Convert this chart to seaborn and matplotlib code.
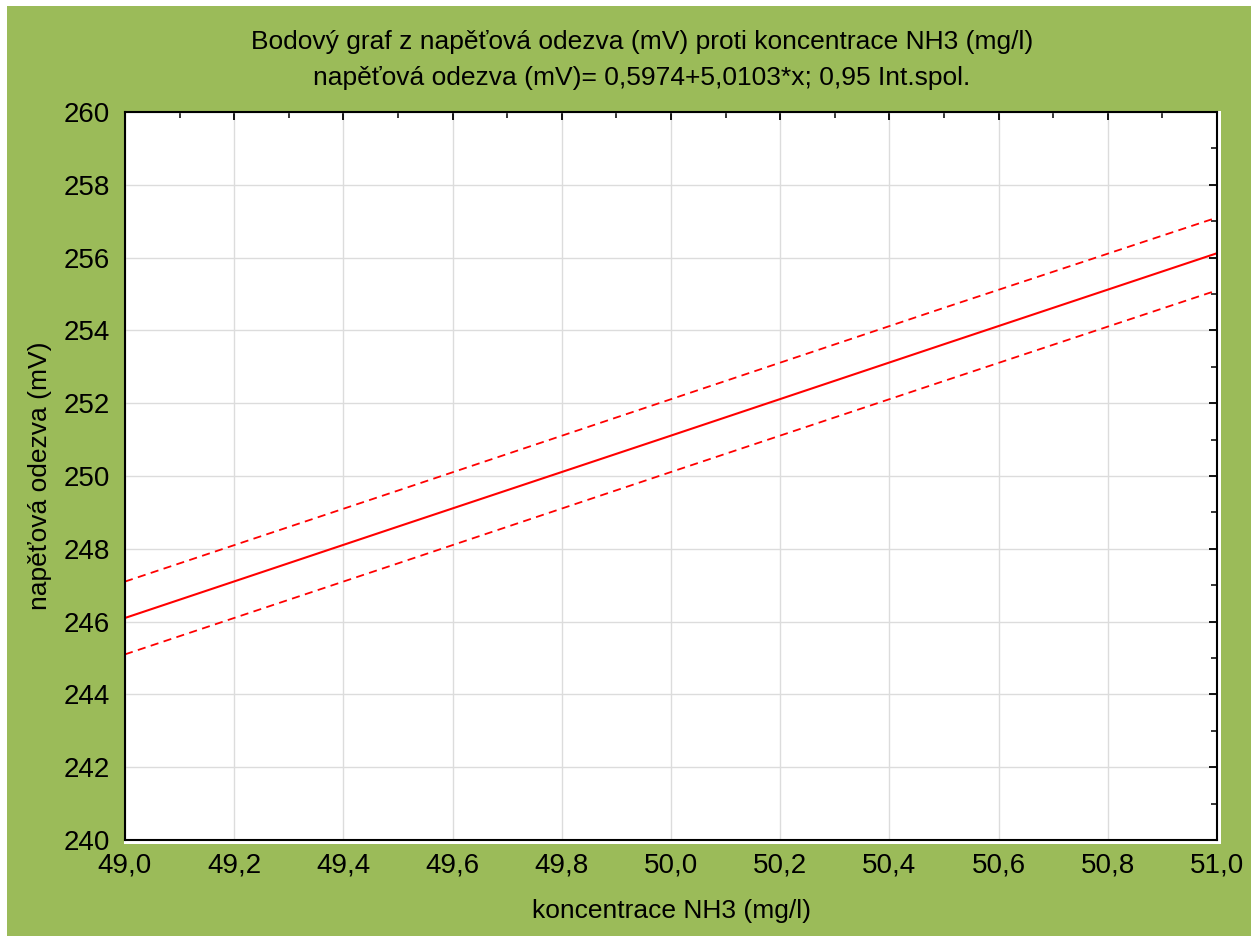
import matplotlib
matplotlib.use("Agg")
import matplotlib.pyplot as plt
import seaborn as sns
import pandas as pd
from matplotlib.patches import Rectangle
from matplotlib.ticker import MultipleLocator, FuncFormatter

# values
conc = [49.0, 49.5, 50.0, 50.5, 51.0]
fit = [246.10, 248.61, 251.11, 253.62, 256.12]
upper = [247.10, 249.60, 252.11, 254.62, 257.10]
lower = [245.10, 247.60, 250.11, 252.61, 255.10]

title = ("Bodový graf z napěťová odezva (mV) proti koncentrace NH3 (mg/l)\n"
         "napěťová odezva (mV)= 0,5974+5,0103*x; 0,95 Int.spol.")
xlabel = "koncentrace NH3 (mg/l)"
ylabel = "napěťová odezva (mV)"

green = "#9bbb59"
W, H = 1251, 936

sns.set_style("white")
plt.rcParams["font.family"] = ["Liberation Sans", "DejaVu Sans"]
plt.rcParams["text.color"] = "black"
plt.rcParams["axes.labelcolor"] = "black"
plt.rcParams["xtick.color"] = "black"
plt.rcParams["ytick.color"] = "black"

fig = plt.figure(figsize=(W / 100, H / 100), dpi=100, facecolor="white")
# green page with thin white strip at top/left
fig.patches.append(Rectangle((7 / W, 0), 1, 1 - 6 / H, transform=fig.transFigure,
                             facecolor=green, edgecolor="none", zorder=-10))
l, r, t, b = 125, 1217, 112, 840
ax = fig.add_axes([l / W, 1 - b / H, (r - l) / W, (b - t) / H])
# white halo around plot area
fig.patches.append(Rectangle(((l - 1) / W, 1 - (b + 4) / H), (r - l + 5) / W, (b - t + 5) / H,
                             transform=fig.transFigure, facecolor="white",
                             edgecolor="none", zorder=-5))

df = pd.DataFrame({"x": conc, "fit": fit, "upper": upper, "lower": lower})
sns.lineplot(data=df, x="x", y="fit", ax=ax, color="red", lw=1.5)
sns.lineplot(data=df, x="x", y="upper", ax=ax, color="red", lw=1.3,
             linestyle=(0, (4.5, 3)))
sns.lineplot(data=df, x="x", y="lower", ax=ax, color="red", lw=1.3,
             linestyle=(0, (4.5, 3)))

ax.set_xlim(49.0, 51.0)
ax.set_ylim(240, 260)
ax.xaxis.set_major_locator(MultipleLocator(0.2))
ax.xaxis.set_minor_locator(MultipleLocator(0.1))
ax.yaxis.set_major_locator(MultipleLocator(2))
ax.yaxis.set_minor_locator(MultipleLocator(1))
ax.xaxis.set_major_formatter(FuncFormatter(lambda v, p: f"{v:.1f}".replace(".", ",")))
ax.yaxis.set_major_formatter(FuncFormatter(lambda v, p: f"{v:.0f}"))
ax.grid(True, which="major", color="#dcdcdc", lw=1)
ax.tick_params(which="both", direction="in", top=True, right=True,
               color="black", labelcolor="black", labelsize=20)
ax.tick_params(axis="x", which="major", pad=9)
ax.tick_params(axis="y", which="major", pad=11)
ax.tick_params(which="major", length=6, width=1.3)
ax.tick_params(which="minor", length=4, width=1.1)
for s in ax.spines.values():
    s.set_visible(True)
    s.set_color("black")
    s.set_linewidth(1.5)

ax.set_xlabel(xlabel, fontsize=19, labelpad=15)
ax.set_ylabel(ylabel, fontsize=19, labelpad=8)
fig.text(0.513, 1 - 60 / H, title, ha="center", va="center", fontsize=19,
         linespacing=1.6)

fig.savefig("out.png", dpi=100, facecolor=fig.get_facecolor())
